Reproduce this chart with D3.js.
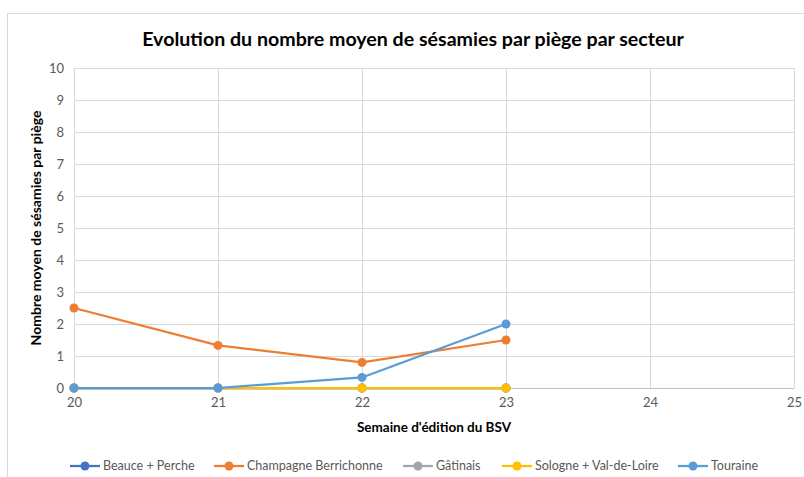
<!DOCTYPE html>
<html lang="fr">
<head>
<meta charset="UTF-8">
<title>Sésamies</title>
<script src="https://cdn.jsdelivr.net/npm/d3@7"></script>
<style>
  body { margin: 0; background: #fff; }
  text { font-family: Lato, "Open Sans", sans-serif; }
</style>
</head>
<body>
<script>
    var width = 804, height = 477;

    // données
    var weeks = [20, 21, 22, 23];
    var xTicks = [20, 21, 22, 23, 24, 25];
    var yTicks = [0, 1, 2, 3, 4, 5, 6, 7, 8, 9, 10];
    var seriesNames = ["Beauce + Perche", "Champagne Berrichonne", "Gâtinais", "Sologne + Val-de-Loire", "Touraine"];
    var seriesColors = ["#4472C4", "#ED7D31", "#A5A5A5", "#FFC000", "#5B9BD5"];
    var beauce = [0, 0, 0, 0];
    var champagne = [2.5, 1.33, 0.8, 1.5];
    var gatinais = [0, 0, 0, 0];
    var sologne = [0, 0, 0, 0];
    var touraine = [0, 0, 0.33, 2];
    var seriesValues = [beauce, champagne, gatinais, sologne, touraine];

    var svg = d3.select("body").append("svg")
        .attr("width", width)
        .attr("height", height);

    // cadre du graphique
    svg.append("rect")
        .attr("x", 7.5).attr("y", 13.5)
        .attr("width", 820).attr("height", 480)
        .attr("fill", "none")
        .attr("stroke", "#d9d9d9");

    var x = d3.scaleLinear().domain([20, 25]).range([74, 794]);
    var y = d3.scaleLinear().domain([0, 10]).range([388, 68]);

    // grille
    svg.append("g").selectAll("line").data(yTicks.slice(1)).join("line")
        .attr("x1", x(20)).attr("x2", x(25))
        .attr("y1", d => Math.round(y(d)) + 0.5).attr("y2", d => Math.round(y(d)) + 0.5)
        .attr("stroke", "#d9d9d9");
    svg.append("g").selectAll("line").data(xTicks).join("line")
        .attr("x1", d => Math.round(x(d)) + 0.5).attr("x2", d => Math.round(x(d)) + 0.5)
        .attr("y1", y(10)).attr("y2", y(0))
        .attr("stroke", "#d9d9d9");
    svg.append("line")
        .attr("x1", x(20)).attr("x2", x(25))
        .attr("y1", Math.round(y(0)) + 0.5).attr("y2", Math.round(y(0)) + 0.5)
        .attr("stroke", "#bfbfbf");

    // axes
    var yAxis = svg.append("g")
        .attr("transform", "translate(" + (x(20) - 4) + ",0)")
        .call(d3.axisLeft(y).tickValues(yTicks).tickSize(0).tickPadding(6).tickFormat(d3.format("d")));
    var xAxis = svg.append("g")
        .attr("transform", "translate(0," + (y(0) + 4) + ")")
        .call(d3.axisBottom(x).tickValues(xTicks).tickSize(0).tickPadding(6).tickFormat(d3.format("d")));
    [yAxis, xAxis].forEach(function(a) {
        a.select(".domain").remove();
        a.selectAll("text")
            .attr("fill", "#595959")
            .style("font-size", "13px")
            .style("font-family", "Lato, 'Open Sans', sans-serif");
    });

    // courbes
    var line = d3.line()
        .x((d, i) => x(weeks[i]))
        .y(d => y(d));

    seriesValues.forEach(function(vals, k) {
        var g = svg.append("g");
        g.append("path")
            .datum(vals)
            .attr("d", line)
            .attr("fill", "none")
            .attr("stroke", seriesColors[k])
            .attr("stroke-width", 2.25)
            .attr("stroke-linejoin", "round");
        g.selectAll("circle").data(vals).join("circle")
            .attr("cx", (d, i) => x(weeks[i]))
            .attr("cy", d => y(d))
            .attr("r", 4.5)
            .attr("fill", seriesColors[k]);
    });

    // titres
    svg.append("text")
        .attr("x", 413).attr("y", 46)
        .attr("text-anchor", "middle")
        .style("font-size", "19.6px")
        .style("font-weight", "bold")
        .attr("fill", "#000")
        .text("Evolution du nombre moyen de sésamies par piège par secteur");

    svg.append("text")
        .attr("transform", "translate(41," + 228 + ") rotate(-90)")
        .attr("text-anchor", "middle")
        .style("font-size", "14px")
        .style("font-weight", "bold")
        .attr("fill", "#000")
        .text("Nombre moyen de sésamies par piège");

    svg.append("text")
        .attr("x", 434).attr("y", 432)
        .attr("text-anchor", "middle")
        .style("font-size", "13.5px")
        .style("font-weight", "bold")
        .attr("fill", "#000")
        .text("Semaine d'édition du BSV");

    // légende
    var legendStarts = [70, 214, 403, 502, 678];
    var leg = svg.append("g").selectAll("g").data(seriesNames).join("g")
        .attr("transform", (d, i) => "translate(" + legendStarts[i] + ",466)");
    leg.append("line")
        .attr("x1", 0).attr("x2", 30)
        .attr("stroke", (d, i) => seriesColors[i])
        .attr("stroke-width", 2.25);
    leg.append("circle")
        .attr("cx", 15).attr("r", 4.5)
        .attr("fill", (d, i) => seriesColors[i]);
    leg.append("text")
        .attr("x", 33).attr("dy", "0.35em")
        .style("font-size", "12.5px")
        .attr("fill", "#595959")
        .text(d => d);
</script>
</body>
</html>
